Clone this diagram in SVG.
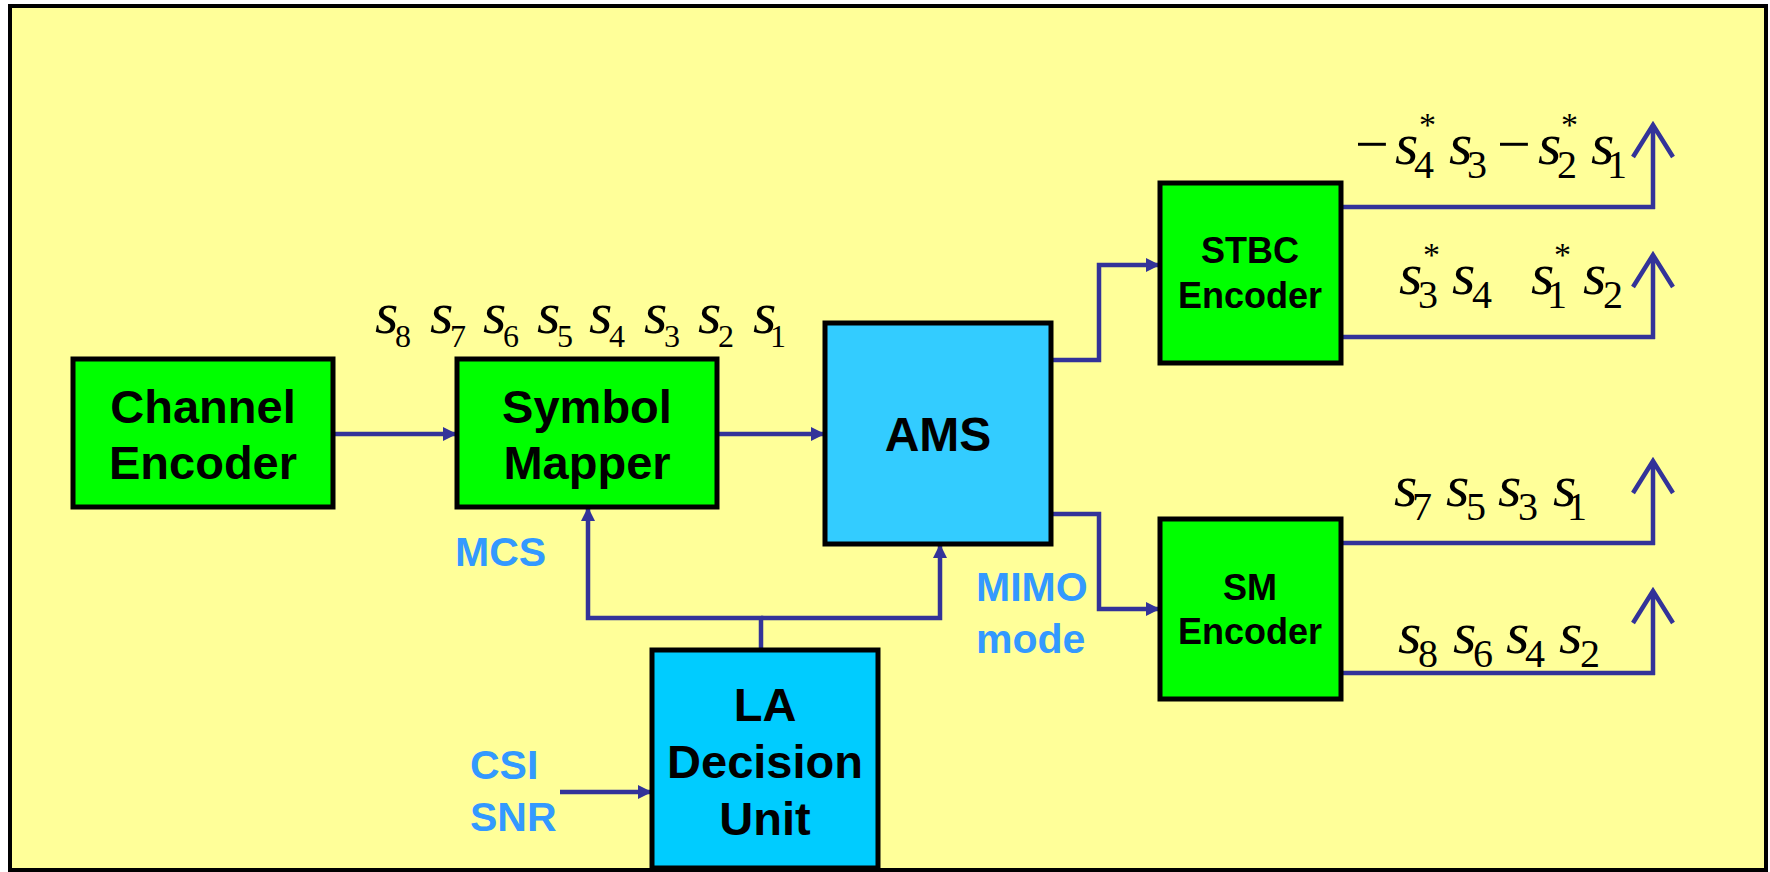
<svg xmlns="http://www.w3.org/2000/svg" width="1770" height="872" viewBox="0 0 1770 872">
<style>
.box{stroke:#000;stroke-width:5}
.g{fill:#00FF00}
.lbl{font-family:"Liberation Sans",Arial,sans-serif;font-weight:bold;fill:#000;text-anchor:middle}
.big{font-size:47px}
.sm{font-size:36px}
.blue{font-family:"Liberation Sans",Arial,sans-serif;font-weight:bold;font-size:41px;fill:#3399FF}
.wire{fill:none;stroke:#333399;stroke-width:4.5}
.math{font-family:"Liberation Serif","Times New Roman",serif;fill:#000}
.s{font-style:italic;font-size:60px}
.d{font-size:40px}
.d1{font-size:32px}
.ast{font-size:34px}
.mn{font-size:60px}
</style>
<defs>
<marker id="ah" markerUnits="userSpaceOnUse" markerWidth="16" markerHeight="16" refX="14" refY="7" orient="auto">
<path d="M0,0 L14,7 L0,14 z" fill="#333399"/>
</marker>
</defs>
<rect x="10" y="6" width="1756" height="864" fill="#FFFF99" stroke="#000" stroke-width="4"/>

<g id="connectors">
<path class="wire" d="M333,434 H457" marker-end="url(#ah)"/>
<path class="wire" d="M717,434 H825" marker-end="url(#ah)"/>
<path class="wire" d="M1051,360 H1099 V265 H1160" marker-end="url(#ah)"/>
<path class="wire" d="M1051,514 H1099 V609 H1160" marker-end="url(#ah)"/>
<path class="wire" d="M761,650 V618 H588 V507" marker-end="url(#ah)"/>
<path class="wire" d="M761,618 H940 V544" marker-end="url(#ah)"/>
<path class="wire" d="M560,792 H652" marker-end="url(#ah)"/>
<path class="wire" d="M1341,207 H1655 M1653,209 V127 M1633,157 L1653,125 L1673,157"/>
<path class="wire" d="M1341,337 H1655 M1653,339 V257 M1633,287 L1653,255 L1673,287"/>
<path class="wire" d="M1341,543 H1655 M1653,545 V463 M1633,493 L1653,461 L1673,493"/>
<path class="wire" d="M1341,673 H1655 M1653,675 V593 M1633,623 L1653,591 L1673,623"/>
</g>

<g id="channel-encoder">
<rect class="box g" x="73" y="359" width="260" height="148"/>
<text class="lbl big" x="203" y="423">Channel</text>
<text class="lbl big" x="203" y="479">Encoder</text>
</g>
<g id="symbol-mapper">
<rect class="box g" x="457" y="359" width="260" height="148"/>
<text class="lbl big" x="587" y="423">Symbol</text>
<text class="lbl big" x="587" y="479">Mapper</text>
</g>
<g id="ams">
<rect class="box" fill="#33CCFF" x="825" y="323" width="226" height="221"/>
<text class="lbl" style="font-size:48px" x="938" y="451">AMS</text>
</g>
<g id="stbc-encoder">
<rect class="box g" x="1160" y="183" width="181" height="180"/>
<text class="lbl sm" x="1250" y="263">STBC</text>
<text class="lbl sm" x="1250" y="308">Encoder</text>
</g>
<g id="sm-encoder">
<rect class="box g" x="1160" y="519" width="181" height="180"/>
<text class="lbl sm" x="1250" y="600">SM</text>
<text class="lbl sm" x="1250" y="644">Encoder</text>
</g>
<g id="la-decision-unit">
<rect class="box" fill="#00CCFF" x="652" y="650" width="226" height="218"/>
<text class="lbl big" x="765" y="721">LA</text>
<text class="lbl big" x="765" y="778">Decision</text>
<text class="lbl big" x="765" y="835">Unit</text>
</g>

<g id="side-labels">
<text class="blue" x="455" y="566">MCS</text>
<text class="blue" x="976" y="601">MIMO</text>
<text class="blue" x="976" y="653">mode</text>
<text class="blue" x="470" y="779">CSI</text>
<text class="blue" x="470" y="831">SNR</text>
</g>

<g id="symbols-in" class="math">
<text class="s" x="375" y="333">s</text><text class="d1" x="395" y="347">8</text>
<text class="s" x="430" y="333">s</text><text class="d1" x="450" y="347">7</text>
<text class="s" x="483" y="333">s</text><text class="d1" x="503" y="347">6</text>
<text class="s" x="537" y="333">s</text><text class="d1" x="557" y="347">5</text>
<text class="s" x="589" y="333">s</text><text class="d1" x="609" y="347">4</text>
<text class="s" x="644" y="333">s</text><text class="d1" x="664" y="347">3</text>
<text class="s" x="698" y="333">s</text><text class="d1" x="718" y="347">2</text>
<text class="s" x="753" y="333">s</text><text class="d1" x="770" y="347">1</text>
</g>

<g id="stbc-row1" class="math">
<text class="mn" x="1355" y="164">−</text>
<text class="s" x="1395" y="164">s</text><text class="d" x="1414" y="178">4</text><text class="ast" x="1419" y="136">*</text>
<text class="s" x="1449" y="164">s</text><text class="d" x="1467" y="178">3</text>
<text class="mn" x="1497" y="164">−</text>
<text class="s" x="1538" y="164">s</text><text class="d" x="1557" y="178">2</text><text class="ast" x="1561" y="136">*</text>
<text class="s" x="1591" y="164">s</text><text class="d" x="1607" y="178">1</text>
</g>
<g id="stbc-row2" class="math">
<text class="s" x="1399" y="294">s</text><text class="d" x="1418" y="308">3</text><text class="ast" x="1423" y="266">*</text>
<text class="s" x="1452" y="294">s</text><text class="d" x="1472" y="308">4</text>
<text class="s" x="1531" y="294">s</text><text class="d" x="1547" y="308">1</text><text class="ast" x="1554" y="266">*</text>
<text class="s" x="1583" y="294">s</text><text class="d" x="1603" y="308">2</text>
</g>
<g id="sm-row1" class="math">
<text class="s" x="1394" y="506">s</text><text class="d" x="1412" y="520">7</text>
<text class="s" x="1446" y="506">s</text><text class="d" x="1466" y="520">5</text>
<text class="s" x="1498" y="506">s</text><text class="d" x="1518" y="520">3</text>
<text class="s" x="1553" y="506">s</text><text class="d" x="1567" y="520">1</text>
</g>
<g id="sm-row2" class="math">
<text class="s" x="1398" y="653">s</text><text class="d" x="1418" y="667">8</text>
<text class="s" x="1453" y="653">s</text><text class="d" x="1473" y="667">6</text>
<text class="s" x="1506" y="653">s</text><text class="d" x="1525" y="667">4</text>
<text class="s" x="1559" y="653">s</text><text class="d" x="1580" y="667">2</text>
</g>
</svg>
